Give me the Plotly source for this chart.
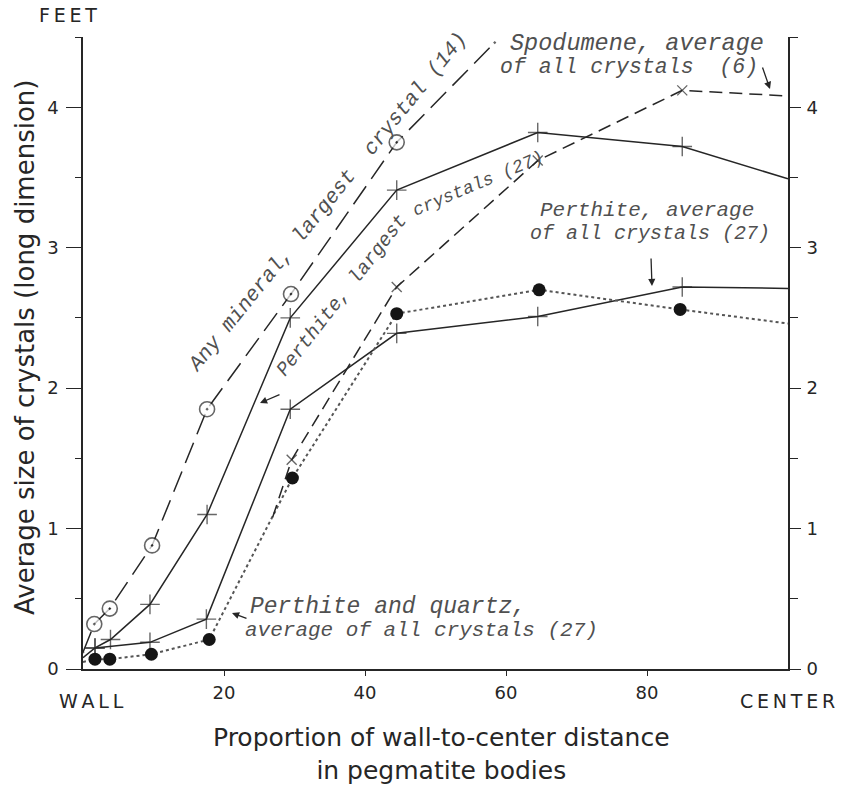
import plotly.graph_objects as go

# ---------------- data ----------------
# Proportion of wall-to-center distance (0 = wall, 100 = center)
any_x = [0, 1.6, 3.8, 9.8, 17.6, 29.5, 44.5, 58.4]
any_y = [0.12, 0.32, 0.43, 0.88, 1.85, 2.67, 3.75, 4.46]
any_pts = [False, True, True, True, True, True, True, False]

perl_x = [0, 1.7, 3.9, 9.5, 17.6, 29.4, 44.5, 64.5, 85, 100]
perl_y = [0.08, 0.15, 0.21, 0.46, 1.10, 2.50, 3.41, 3.82, 3.72, 3.49]
perl_pts = [False, True, True, True, True, True, True, True, True, False]

spod_x = [26.9, 29.6, 44.5, 64.5, 85, 100]
spod_y = [1.08, 1.49, 2.72, 3.62, 4.12, 4.08]
spod_pts = [False, True, True, True, True, False]

pera_x = [1.7, 9.5, 17.5, 29.4, 44.5, 64.5, 85, 100]
pera_y = [0.15, 0.19, 0.355, 1.85, 2.39, 2.51, 2.72, 2.71]
pera_pts = [True, True, True, True, True, True, True, False]

pq_x = [0, 1.7, 3.8, 9.7, 17.9, 29.7, 44.5, 64.7, 84.7, 100]
pq_y = [0.05, 0.07, 0.07, 0.105, 0.21, 1.36, 2.53, 2.70, 2.56, 2.46]
pq_pts = [False, True, True, True, True, True, True, True, True, False]

x_ticks = [20, 40, 60, 80]
y_ticks = [0, 1, 2, 3, 4]

# ---------------- styling ----------------
INK = "#262626"
TXT = "#505050"
SANS = "DejaVu Sans"
SCRIPT = "Liberation Mono"

L, R, T, B = 83, 54, 37, 118
W, H = 842, 787
PW, PH = W - L - R, H - T - B


def px(x):
    return (x - L) / PW


def py(y):
    return (H - B - y) / PH


def sizes(flags, s):
    return [s if f else 0 for f in flags]


fig = go.Figure()

fig.add_trace(go.Scatter(
    x=any_x, y=any_y, mode="lines+markers", cliponaxis=False,
    line=dict(color=INK, width=1.5, dash="22px,9px"),
    marker=dict(symbol="circle-dot", size=sizes(any_pts, 15), color="white",
                line=dict(color=INK, width=1.6)),
    hoverinfo="skip", showlegend=False))

fig.add_trace(go.Scatter(
    x=perl_x, y=perl_y, mode="lines+markers", cliponaxis=False,
    line=dict(color=INK, width=1.5),
    marker=dict(symbol="cross-thin-open", size=sizes(perl_pts, 14), color=INK,
                line=dict(color=INK, width=1.4)),
    hoverinfo="skip", showlegend=False))

fig.add_trace(go.Scatter(
    x=pera_x, y=pera_y, mode="lines+markers", cliponaxis=False,
    line=dict(color=INK, width=1.5),
    marker=dict(symbol="cross-thin-open", size=sizes(pera_pts, 14), color=INK,
                line=dict(color=INK, width=1.4)),
    hoverinfo="skip", showlegend=False))

fig.add_trace(go.Scatter(
    x=pq_x, y=pq_y, mode="lines+markers", cliponaxis=False,
    line=dict(color="#555555", width=2, dash="dot"),
    marker=dict(symbol="circle", size=sizes(pq_pts, 13), color="#151515",
                opacity=1, line=dict(color="#151515", width=0)),
    hoverinfo="skip", showlegend=False))

fig.add_trace(go.Scatter(
    x=spod_x, y=spod_y, mode="lines+markers", cliponaxis=False, yaxis="y2",
    line=dict(color=INK, width=1.5, dash="13px,7px"),
    marker=dict(symbol="x-thin-open", size=sizes(spod_pts, 10), color=INK,
                line=dict(color=INK, width=1.4)),
    hoverinfo="skip", showlegend=False))

axis_font = dict(family=SANS, size=18, color=INK)

fig.update_layout(
    width=W, height=H, autosize=False,
    margin=dict(l=L, r=R, t=T, b=B, pad=0),
    paper_bgcolor="white", plot_bgcolor="white",
    xaxis=dict(range=[0, 100], showgrid=False, zeroline=False,
               showline=True, linecolor=INK, linewidth=1.6,
               tickmode="array", tickvals=x_ticks, ticktext=[str(v) for v in x_ticks],
               ticks="outside", ticklen=5, tickwidth=1.4, tickcolor=INK,
               ticklabelstandoff=2, tickfont=axis_font),
    yaxis=dict(range=[0, 4.5], showgrid=False, zeroline=False,
               showline=True, linecolor=INK, linewidth=1.6,
               tickmode="array", tickvals=y_ticks, ticktext=[str(v) for v in y_ticks],
               ticks="outside", ticklen=15, tickwidth=1.4, tickcolor=INK,
               minor=dict(dtick=0.5, tick0=0, ticks="outside", ticklen=6,
                          tickwidth=1.4, tickcolor=INK, showgrid=False),
               ticklabelstandoff=4, tickfont=axis_font),
    yaxis2=dict(range=[0, 4.5], overlaying="y", side="right",
                showgrid=False, zeroline=False,
                showline=True, linecolor=INK, linewidth=1.6,
                tickmode="array", tickvals=y_ticks, ticktext=[str(v) for v in y_ticks],
                ticks="outside", ticklen=11, tickwidth=1.4, tickcolor=INK,
                minor=dict(dtick=0.5, tick0=0, ticks="outside", ticklen=8,
                           tickwidth=1.4, tickcolor=INK, showgrid=False),
                ticklabelstandoff=2, tickfont=axis_font),
)

ann = []


def text(s, x, y, size, font=SANS, angle=0, xanchor="center", color=INK, italic=False):
    ann.append(dict(text=s, x=px(x), y=py(y), xref="paper", yref="paper",
                    showarrow=False, textangle=angle, xanchor=xanchor, yanchor="middle",
                    font=dict(family=font, size=size, color=color,
                              style="italic" if italic else "normal")))


def arrow(hx, hy, tx, ty):
    ann.append(dict(text="", x=px(hx), y=py(hy), xref="paper", yref="paper",
                    showarrow=True, ax=tx - hx, ay=ty - hy, arrowhead=2,
                    arrowsize=1.1, arrowwidth=1.3, arrowcolor=INK, standoff=0))


# axis labels
text("F\u2009E\u2009E\u2009T", 68, 15, 19)
text("W\u2009A\u2009L\u2009L", 91, 701, 19)
text("C\u2009E\u2009N\u2009T\u2009E\u2009R", 787, 701, 19)
text("Average size of crystals (long dimension)", 25, 348, 26, angle=-90)
text("Proportion of wall-to-center distance<br>in pegmatite bodies", 442, 754, 25)

# curve labels
text("Any mineral, largest  crystal (14)", 328, 203, 21, font=SCRIPT, angle=-51,
     color=TXT, italic=True)
text("Perthite, largest", 342, 296, 19.5, font=SCRIPT, angle=-52, color=TXT, italic=True)
text("crystals (27)", 478, 184, 18, font=SCRIPT, angle=-23, color=TXT, italic=True)
text("Spodumene, average", 508, 44, 23.5, font=SCRIPT, xanchor="left", color=TXT, italic=True)
text("of all crystals  (6)", 498, 67, 21.5, font=SCRIPT, xanchor="left", color=TXT, italic=True)
text("Perthite, average", 538, 210, 21, font=SCRIPT, xanchor="left", color=TXT, italic=True)
text("of all crystals (27)", 528, 233, 20, font=SCRIPT, xanchor="left", color=TXT, italic=True)
text("Perthite and quartz,", 248, 607, 23, font=SCRIPT, xanchor="left", color=TXT, italic=True)
text("average of all crystals (27)", 243, 630, 21, font=SCRIPT, xanchor="left", color=TXT, italic=True)

# pointer arrows
arrow(770, 89, 762, 66)
arrow(652, 286, 651, 257)
arrow(260, 403, 281, 394)
arrow(232, 613, 248, 619)

fig.update_layout(annotations=ann)

fig.write_html("out.html", config={"displayModeBar": False},
               post_script="document.body.style.margin='0px';")
